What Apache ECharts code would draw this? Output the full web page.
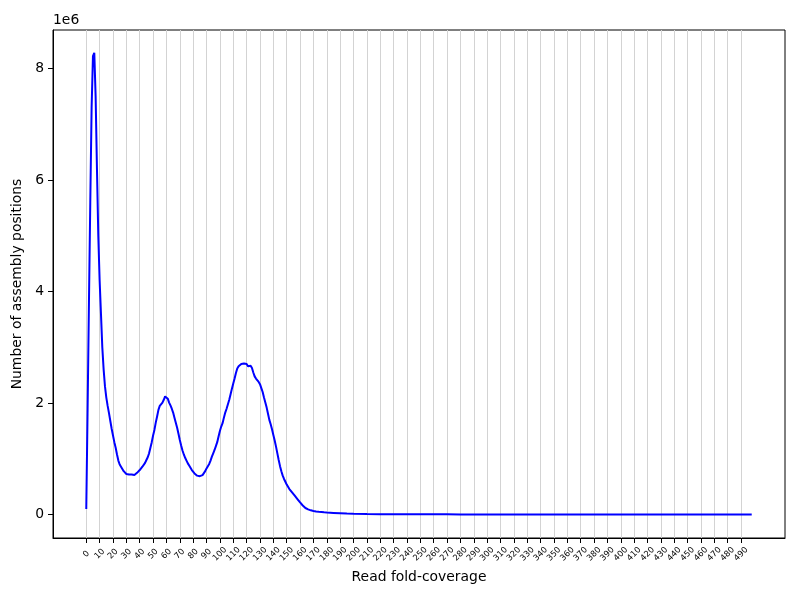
<!DOCTYPE html>
<html><head><meta charset="utf-8">
<script src="https://cdn.jsdelivr.net/npm/echarts@6/dist/echarts.min.js"></script>
<style>html,body{margin:0;padding:0;background:#fff}#c{width:800px;height:600px}</style>
</head><body><div id="c"></div>
<script>
const coverage = [
  0,1,2,3,4,5,6,7,8,9,10,11,12,13,14,15,16,17,18,19,
  20,21,22,23,24,25,26,27,28,29,30,31,32,33,34,35,36,37,38,39,
  40,41,42,43,44,45,46,47,48,49,50,51,52,53,54,55,56,57,58,59,
  60,61,62,63,64,65,66,67,68,69,70,71,72,73,74,75,76,77,78,79,
  80,81,82,83,84,85,86,87,88,89,90,91,92,93,94,95,96,97,98,99,
  100,101,102,103,104,105,106,107,108,109,110,111,112,113,114,115,116,117,118,119,
  120,121,122,123,124,125,126,127,128,129,130,131,132,133,134,135,136,137,138,139,
  140,141,142,143,144,145,146,147,148,149,150,151,152,153,154,155,156,157,158,159,
  160,161,162,163,164,165,166,167,168,169,170,172,174,176,178,180,185,190,195,200,
  210,220,230,240,250,260,270,280,290,300,310,320,330,340,350,360,370,380,390,400,
  410,420,430,440,450,460,470,480,490,498
];
const positionsMillions = [
  0.10,1.9,3.8,5.6,7.3,8.22,8.28,7.5,6.2,5.0,4.2,3.6,3.0,2.6,2.3,2.1,1.95,1.82,1.68,1.54,
  1.42,1.30,1.20,1.08,0.97,0.90,0.86,0.82,0.78,0.75,0.73,0.72,0.72,0.71,0.72,0.70,0.71,0.73,0.75,0.78,
  0.80,0.83,0.86,0.89,0.93,0.98,1.03,1.10,1.20,1.30,1.42,1.52,1.65,1.76,1.88,1.95,1.97,2.01,2.06,2.12,
  2.14,2.08,2.01,1.96,1.90,1.83,1.74,1.65,1.56,1.45,1.34,1.24,1.15,1.08,1.02,0.97,0.92,0.88,0.84,0.80,
  0.77,0.74,0.72,0.70,0.70,0.69,0.69,0.71,0.74,0.78,0.83,0.87,0.91,0.97,1.04,1.10,1.16,1.23,1.30,1.40,
  1.50,1.58,1.64,1.74,1.83,1.90,1.98,2.06,2.16,2.26,2.35,2.44,2.54,2.62,2.66,2.66,2.70,2.68,2.71,2.68,
  2.70,2.66,2.69,2.67,2.63,2.55,2.48,2.44,2.41,2.38,2.34,2.27,2.20,2.10,2.01,1.92,1.81,1.70,1.62,1.53,
  1.43,1.33,1.22,1.10,0.98,0.87,0.78,0.70,0.64,0.59,0.54,0.50,0.46,0.43,0.40,0.37,0.34,0.31,0.28,0.25,
  0.22,0.19,0.165,0.14,0.12,0.105,0.095,0.085,0.078,0.072,0.066,0.058,0.052,0.047,0.042,0.038,0.032,0.026,0.020,0.015,
  0.012,0.010,0.009,0.008,0.007,0.006,0.006,0.005,0.005,0.005,0.004,0.004,0.004,0.004,0.003,0.003,0.003,0.003,0.003,0.003,
  0.003,0.002,0.002,0.002,0.002,0.002,0.002,0.002,0.002,0.002
];
const xTicks = [0,10,20,30,40,50,60,70,80,90,100,110,120,130,140,150,160,170,180,190,
  200,210,220,230,240,250,260,270,280,290,300,310,320,330,340,350,360,370,380,390,
  400,410,420,430,440,450,460,470,480,490];
const yTicks = [0,2,4,6,8];

const FONT = 'DejaVu Sans';
const chart = echarts.init(document.getElementById('c'), null, {renderer:'canvas'});
chart.setOption({
  animation: false,
  backgroundColor: '#fff',
  grid: {left:53, right:15, top:30, bottom:62, show:true, borderColor:'#000', borderWidth:1, backgroundColor:'transparent'},
  graphic: [{type:'text', left:53, top:13, style:{text:'1e6', fontSize:13.9, fontFamily:FONT, fill:'#000'}}],
  xAxis: {
    type:'value', min:-24.9, max:522.9,
    name:'Read fold-coverage', nameLocation:'middle', nameGap:32,
    nameTextStyle:{fontSize:13.9, fontFamily:FONT, color:'#000'},
    axisLine:{show:true, onZero:false, lineStyle:{color:'#000', width:1}},
    axisTick:{show:true, customValues:xTicks, length:5, lineStyle:{color:'#000', width:1}},
    axisLabel:{customValues:xTicks, rotate:45, fontSize:8.3, fontFamily:FONT, color:'#000', align:'center', verticalAlign:'middle', margin:16},
    splitLine:{show:false}
  },
  yAxis: {
    type:'value', min:-0.418, max:8.69,
    name:'Number of assembly positions', nameLocation:'middle', nameGap:23,
    nameTextStyle:{fontSize:13.9, fontFamily:FONT, color:'#000'},
    axisLine:{show:true, onZero:false, lineStyle:{color:'#000', width:1}},
    axisTick:{show:true, customValues:yTicks, length:5, lineStyle:{color:'#000', width:1}},
    axisLabel:{customValues:yTicks, fontSize:13.9, fontFamily:FONT, color:'#000', margin:9},
    splitLine:{show:false}
  },
  series: [
    {
      type:'line', data:[], silent:true, z:1,
      markLine:{
        silent:true, symbol:['none','none'], animation:false,
        label:{show:false},
        lineStyle:{color:'#d3d3d3', width:1, type:'solid'},
        emphasis:{disabled:true},
        data: xTicks.map(v=>({xAxis:v}))
      }
    },
    {
      type:'line', showSymbol:false, symbol:'none',
      data: coverage.map((c,i)=>[c, positionsMillions[i]]),
      lineStyle:{color:'#0000ff', width:2}, z:5
    }
  ]
});
</script>
</body></html>
